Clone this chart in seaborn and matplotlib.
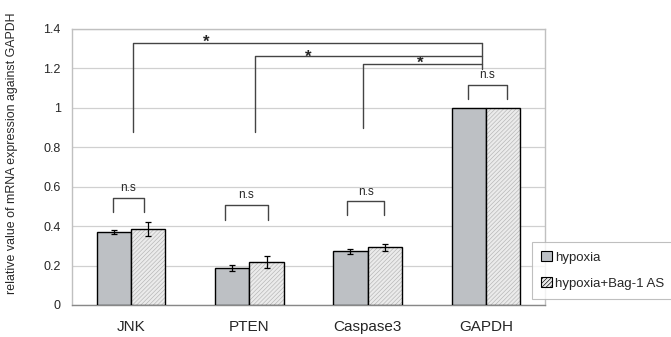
import numpy as np
import pandas as pd
import matplotlib
matplotlib.use("Agg")
import matplotlib.pyplot as plt
from matplotlib.patches import Rectangle, Patch
import seaborn as sns

# data
genes = ["JNK", "PTEN", "Caspase3", "GAPDH"]
groups = ["hypoxia", "hypoxia+Bag-1 AS"]
hypoxia = [0.372, 0.186, 0.272, 1.0]
hypoxia_err = [0.010, 0.015, 0.012, 0.0]
bag1 = [0.384, 0.218, 0.293, 1.0]
bag1_err = [0.035, 0.028, 0.018, 0.0]

# n.s brackets: left x, right x, top y, leg bottom y, label y
ns_left = [-0.156, 0.79, 1.828, 2.849]
ns_right = [0.109, 1.158, 2.139, 3.176]
ns_top = [0.545, 0.509, 0.526, 1.117]
ns_leg = [0.474, 0.43, 0.455, 1.046]
ns_text_y = [0.562, 0.527, 0.544, 1.137]

# significance brackets to GAPDH
sig_left = [0.02, 1.05, 1.96]
sig_right = 2.97
sig_top = [1.328, 1.265, 1.22]
sig_bottom = [0.876, 0.876, 0.90]
sig_right_bottom = 1.198
sig_star_x = [0.633, 1.496, 2.443]
sig_star_y = [1.362, 1.284, 1.255]

sns.set_style("white")
plt.rcParams['font.family'] = ['Liberation Sans', 'DejaVu Sans']
plt.rcParams['hatch.linewidth'] = 0.45

df = pd.DataFrame({
    "gene": genes * 2,
    "group": [groups[0]] * 4 + [groups[1]] * 4,
    "value": hypoxia + bag1,
})

fig = plt.figure(figsize=(6.71, 3.37), dpi=100)
ax = fig.add_axes([0.1073, 0.095, 0.7049, 0.819])

sns.barplot(data=df, x="gene", y="value", hue="group", order=genes, hue_order=groups,
            palette=["#bcc0c5", "#ebebeb"], width=0.58, errorbar=None,
            edgecolor="black", linewidth=1.0, legend=False, ax=ax, zorder=3)

bars = [p for p in ax.patches if isinstance(p, Rectangle)]
hyp_bars = bars[:4]
bag_bars = bars[4:8]

for p in bag_bars:
    p.set_hatch("////////")
    p.set_edgecolor("#b4b4b4")
    p.set_linewidth(0)
    ax.add_patch(Rectangle(p.get_xy(), p.get_width(), p.get_height(),
                           fill=False, edgecolor="black", linewidth=1.0, zorder=4))

for bs, vals, errs in [(hyp_bars, hypoxia, hypoxia_err), (bag_bars, bag1, bag1_err)]:
    for p, v, e in zip(bs, vals, errs):
        if e > 0:
            ax.errorbar(p.get_x() + p.get_width() / 2, v, yerr=e, fmt="none",
                        ecolor="black", elinewidth=0.9, capsize=2.3, capthick=0.9, zorder=5)

lc = "#444444"
for l, r, t, b, ty in zip(ns_left, ns_right, ns_top, ns_leg, ns_text_y):
    ax.plot([l, l, r, r], [b, t, t, b], color=lc, lw=1.0, zorder=5)
    ax.text((l + r) / 2, ty, "n.s", ha="center", va="bottom", fontsize=8.5)

for l, t, b, sx, sy in zip(sig_left, sig_top, sig_bottom, sig_star_x, sig_star_y):
    ax.plot([l, l, sig_right], [b, t, t], color=lc, lw=1.0, zorder=5)
    ax.text(sx, sy - 0.05, "*", ha="center", va="baseline", fontsize=12, fontweight="bold")
ax.plot([sig_right, sig_right], [sig_top[0], sig_right_bottom], color=lc, lw=1.0, zorder=5)

ax.set_xlim(-0.5, 3.5)
ax.set_ylim(0, 1.4)
ax.set_yticks(np.arange(0, 1.41, 0.2))
ax.set_yticklabels([f"{v:g}" for v in np.round(np.arange(0, 1.41, 0.2), 1)])
ax.yaxis.grid(True, color="#d0d0d0", lw=0.9, zorder=0)
ax.set_axisbelow(True)
ax.set_xticks([0.5, 1.5, 2.5], minor=True)
ax.tick_params(axis="x", which="minor", direction="in", length=4, color="#999999")
ax.tick_params(axis="x", which="major", length=0, pad=11, labelsize=11)
ax.tick_params(axis="y", length=0, pad=8, labelsize=9)
ax.set_xlabel("")
ax.set_ylabel("")
fig.text(12 / 671, 1 - 153 / 337, "relative value of mRNA expression against GAPDH",
         rotation=90, ha="center", va="center", fontsize=8.9)

for s in ["left", "top", "right"]:
    ax.spines[s].set_color("#c0c0c0")
    ax.spines[s].set_linewidth(1.0)
ax.spines["bottom"].set_color("#888888")
ax.spines["bottom"].set_linewidth(1.0)

handles = [Patch(facecolor="#bcc0c5", edgecolor="black", lw=0.8),
           Patch(facecolor="#ebebeb", edgecolor="black", lw=0.8, hatch="////////")]
leg = ax.legend(handles, groups, loc="lower left", bbox_to_anchor=(0.972, 0.022),
                fontsize=9.5, frameon=True, fancybox=False, handlelength=0.8, handleheight=0.8,
                handletextpad=0.3, labelspacing=1.0, borderpad=0.7, borderaxespad=0)
leg.get_frame().set_edgecolor("#b0b0b0")
leg.get_frame().set_linewidth(0.8)

fig.savefig("out.png", dpi=100)
